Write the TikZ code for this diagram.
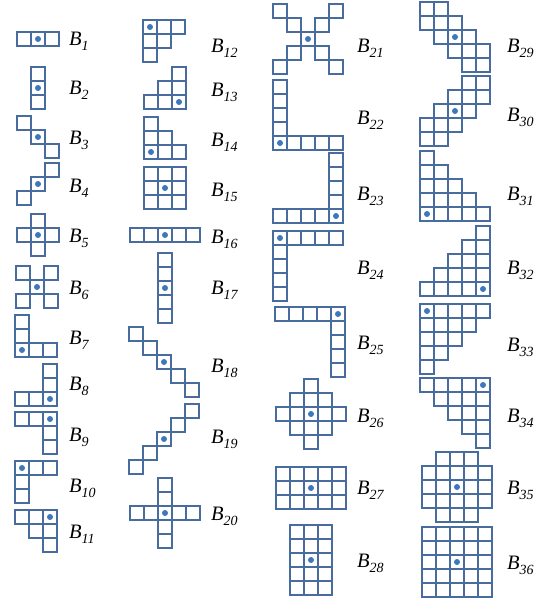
\documentclass[tikz,border=0pt]{standalone}
\usepackage{fontspec}
\setmainfont{Liberation Serif}
\definecolor{cellc}{RGB}{72,108,158}
\definecolor{dotc}{RGB}{62,120,188}
\tikzset{cell/.style={draw=cellc,line width=1.4pt},
  lab/.style={anchor=base west,inner sep=0pt,font=\fontsize{20.5}{20.5}\selectfont\itshape}}
\newcommand\pshape[3]{%
  \foreach \i/\j in {#3} {\draw[cell] ({#1+14*\i-7},{#2+14*\j-7}) rectangle ++(14,14);}
  \fill[dotc] (#1,#2) circle (3);}
\newcommand\blab[4]{\node[lab] (#1) at (#2,#3) {B\raisebox{-5pt}{\fontsize{14}{14}\selectfont\itshape #4}};}
\begin{document}
\begin{tikzpicture}[x=1pt,y=-1pt]
\useasboundingbox (0,0) rectangle (545,606);
% column 1
\pshape{38}{39}{-1/0,0/0,1/0}
\pshape{38}{88}{0/-1,0/0,0/1}
\pshape{38}{137}{-1/-1,0/0,1/1}
\pshape{38}{184}{1/-1,0/0,-1/1}
\pshape{38}{235}{0/-1,-1/0,0/0,1/0,0/1}
\pshape{37}{287}{-1/-1,1/-1,0/0,-1/1,1/1}
\pshape{22}{350}{0/-2,0/-1,0/0,1/0,2/0}
\pshape{50}{399}{-2/0,-1/0,0/0,0/-1,0/-2}
\pshape{50}{419}{-2/0,-1/0,0/0,0/1,0/2}
\pshape{22}{468}{0/0,1/0,2/0,0/1,0/2}
\pshape{50}{517}{-2/0,-1/0,0/0,-1/1,0/1,0/2}
% column 2
\pshape{150}{27}{0/0,1/0,2/0,0/1,1/1,0/2}
\pshape{179}{102}{-2/0,-1/0,0/0,-1/-1,0/-1,0/-2}
\pshape{151}{152}{0/0,1/0,2/0,0/-1,1/-1,0/-2}
\pshape{165}{188}{-1/-1,0/-1,1/-1,-1/0,0/0,1/0,-1/1,0/1,1/1}
\pshape{165}{235}{-2/0,-1/0,0/0,1/0,2/0}
\pshape{165}{288}{0/-2,0/-1,0/0,0/1,0/2}
\pshape{164}{362}{-2/-2,-1/-1,0/0,1/1,2/2}
\pshape{164}{439}{-2/2,-1/1,0/0,1/-1,2/-2}
\pshape{165}{513}{-2/0,-1/0,0/0,1/0,2/0,0/-2,0/-1,0/1,0/2}
% column 3
\pshape{308}{39}{-2/-2,-1/-1,0/0,1/1,2/2,-2/2,-1/1,1/-1,2/-2}
\pshape{280}{143}{0/-4,0/-3,0/-2,0/-1,0/0,1/0,2/0,3/0,4/0}
\pshape{336}{216}{0/-4,0/-3,0/-2,0/-1,0/0,-1/0,-2/0,-3/0,-4/0}
\pshape{280}{238}{0/0,1/0,2/0,3/0,4/0,0/1,0/2,0/3,0/4}
\pshape{338}{314}{-4/0,-3/0,-2/0,-1/0,0/0,0/1,0/2,0/3,0/4}
\pshape{311}{414}{0/-2,-1/-1,0/-1,1/-1,-2/0,-1/0,0/0,1/0,2/0,-1/1,0/1,1/1,0/2}
\pshape{311}{488}{-2/-1,-1/-1,0/-1,1/-1,2/-1,-2/0,-1/0,0/0,1/0,2/0,-2/1,-1/1,0/1,1/1,2/1}
\pshape{311}{560}{-1/-2,0/-2,1/-2,-1/-1,0/-1,1/-1,-1/0,0/0,1/0,-1/1,0/1,1/1,-1/2,0/2,1/2}
% column 4
\pshape{455}{37}{-2/-2,-1/-2,-2/-1,-1/-1,0/-1,-1/0,0/0,1/0,0/1,1/1,2/1,1/2,2/2}
\pshape{455}{111}{1/-2,2/-2,0/-1,1/-1,2/-1,-1/0,0/0,1/0,-2/1,-1/1,0/1,-2/2,-1/2}
\pshape{427}{214}{0/0,1/0,2/0,3/0,4/0,0/-1,1/-1,2/-1,3/-1,0/-2,1/-2,2/-2,0/-3,1/-3,0/-4}
\pshape{483}{289}{0/0,-1/0,-2/0,-3/0,-4/0,0/-1,-1/-1,-2/-1,-3/-1,0/-2,-1/-2,-2/-2,0/-3,-1/-3,0/-4}
\pshape{427}{311}{0/0,1/0,2/0,3/0,4/0,0/1,1/1,2/1,3/1,0/2,1/2,2/2,0/3,1/3,0/4}
\pshape{483}{385}{0/0,-1/0,-2/0,-3/0,-4/0,0/1,-1/1,-2/1,-3/1,0/2,-1/2,-2/2,0/3,-1/3,0/4}
\pshape{457}{487}{-1/-2,0/-2,1/-2,-2/-1,-1/-1,0/-1,1/-1,2/-1,-2/0,-1/0,0/0,1/0,2/0,-2/1,-1/1,0/1,1/1,2/1,-1/2,0/2,1/2}
\pshape{457}{562}{-2/-2,-1/-2,0/-2,1/-2,2/-2,-2/-1,-1/-1,0/-1,1/-1,2/-1,-2/0,-1/0,0/0,1/0,2/0,-2/1,-1/1,0/1,1/1,2/1,-2/2,-1/2,0/2,1/2,2/2}
% labels
\blab{b1}{69}{45}{1}
\blab{b2}{69}{94}{2}
\blab{b3}{69}{144}{3}
\blab{b4}{69}{192}{4}
\blab{b5}{69}{242}{5}
\blab{b6}{69}{294}{6}
\blab{b7}{69}{344}{7}
\blab{b8}{69}{390}{8}
\blab{b9}{69}{441}{9}
\blab{b10}{69}{492}{10}
\blab{b11}{69}{538}{11}
\blab{b12}{211}{52}{12}
\blab{b13}{211}{96}{13}
\blab{b14}{211}{146}{14}
\blab{b15}{211}{196}{15}
\blab{b16}{211}{243}{16}
\blab{b17}{211}{294}{17}
\blab{b18}{211}{372}{18}
\blab{b19}{211}{443}{19}
\blab{b20}{211}{520}{20}
\blab{b21}{357}{52}{21}
\blab{b22}{357}{124}{22}
\blab{b23}{357}{200}{23}
\blab{b24}{357}{274}{24}
\blab{b25}{357}{349}{25}
\blab{b26}{357}{422}{26}
\blab{b27}{357}{494}{27}
\blab{b28}{357}{567}{28}
\blab{b29}{507}{52}{29}
\blab{b30}{507}{121}{30}
\blab{b31}{507}{200}{31}
\blab{b32}{507}{274}{32}
\blab{b33}{507}{351}{33}
\blab{b34}{507}{422}{34}
\blab{b35}{507}{494}{35}
\blab{b36}{507}{569}{36}
\end{tikzpicture}
\end{document}
